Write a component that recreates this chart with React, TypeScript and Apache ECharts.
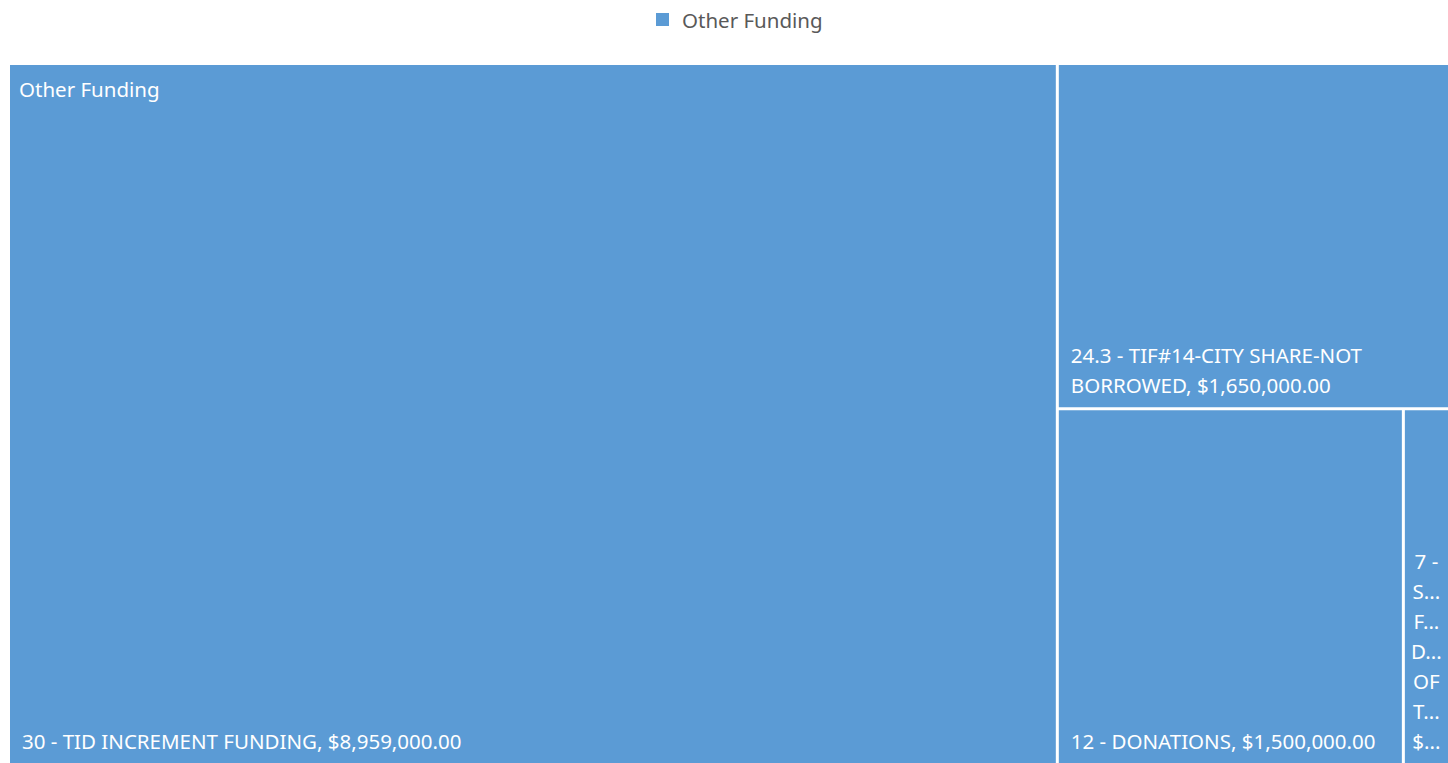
import React, { useEffect, useRef } from "react";
import * as echarts from "echarts";

const seriesName = "Other Funding";
const categories = [
  "30 - TID INCREMENT FUNDING",
  "24.3 - TIF#14-CITY SHARE-NOT BORROWED",
  "12 - DONATIONS",
  "7 - STATE FUNDS DEPT OF TRANSPORTATION",
];
const values = [8959000, 1650000, 1500000, 200000];

const BLUE = "#5B9BD5";
const FONT = "'Noto Sans', sans-serif";
const FS = 20.5;
const FONT_STR = `${FS}px 'Noto Sans'`;

function money(v: number): string {
  return (
    "$" +
    v.toLocaleString("en-US", { minimumFractionDigits: 2, maximumFractionDigits: 2 })
  );
}

function fitWord(w: string, width: number): string {
  const fmt: any = (echarts as any).format;
  if (fmt && typeof fmt.truncateText === "function") {
    return fmt.truncateText(w, width, FONT_STR, "...", { minChar: 1 });
  }
  return w;
}

export default function App() {
  const ref = useRef<HTMLDivElement>(null);
  useEffect(() => {
    if (!ref.current) return;
    const chart = echarts.init(ref.current, undefined, { renderer: "svg" });
    const data = categories.map((name, i) => {
      const item: any = { name, value: values[i] };
      if (i === 1) {
        item.label = { overflow: "break" };
      }
      if (i === 3) {
        item.label = {
          position: "insideBottom",
          align: "center",
          padding: [0, 0, 7, 0],
          overflow: "none",
          formatter: (p: any) => {
            const words = (p.name + ", " + money(p.value)).split(" ");
            const lines: string[] = [words[0] + " " + words[1]];
            for (let k = 2; k < words.length; k++)
              lines.push(fitWord(words[k].replace(/,$/, ""), 40));
            return lines.join("\n");
          },
        };
      }
      return item;
    });
    chart.setOption({
      animation: false,
      color: [BLUE],
      legend: {
        show: true,
        data: [{ name: seriesName, itemStyle: { color: BLUE } }],
        top: 4,
        left: 651,
        icon: "rect",
        itemWidth: 13,
        itemHeight: 13,
        itemGap: 10,
        textStyle: {
          color: "#595959",
          fontSize: FS,
          fontFamily: FONT,
          padding: [0, 0, 0, 8],
        },
        selectedMode: false,
      },
      graphic: [
        {
          type: "text",
          left: 19,
          top: 78,
          z: 100,
          style: { text: seriesName, fill: "#fff", fontSize: FS, fontFamily: FONT },
        },
      ],
      series: [
        {
          type: "treemap",
          name: seriesName,
          left: 10,
          top: 65,
          right: 0,
          bottom: 0,
          roam: false,
          nodeClick: false,
          breadcrumb: { show: false },
          itemStyle: { color: BLUE, borderWidth: 0, gapWidth: 3, borderColor: "#fff" },
          levels: [
            { itemStyle: { borderWidth: 0, gapWidth: 3, borderColor: "#fff" } },
            { itemStyle: { borderWidth: 0, gapWidth: 3, borderColor: "#fff" } },
          ],
          label: {
            show: true,
            position: "insideBottomLeft",
            color: "#fff",
            fontSize: FS,
            lineHeight: 30,
            fontFamily: FONT,
            padding: [0, 0, 7, 12],
            overflow: "none",
            formatter: (p: any) => p.name + ", " + money(p.value),
          },
          upperLabel: { show: false },
          data,
        },
      ],
    });
    return () => chart.dispose();
  }, []);
  return (
    <div
      ref={ref}
      style={{ position: "fixed", left: 0, top: 0, width: 1448, height: 763, background: "#fff" }}
    />
  );
}
